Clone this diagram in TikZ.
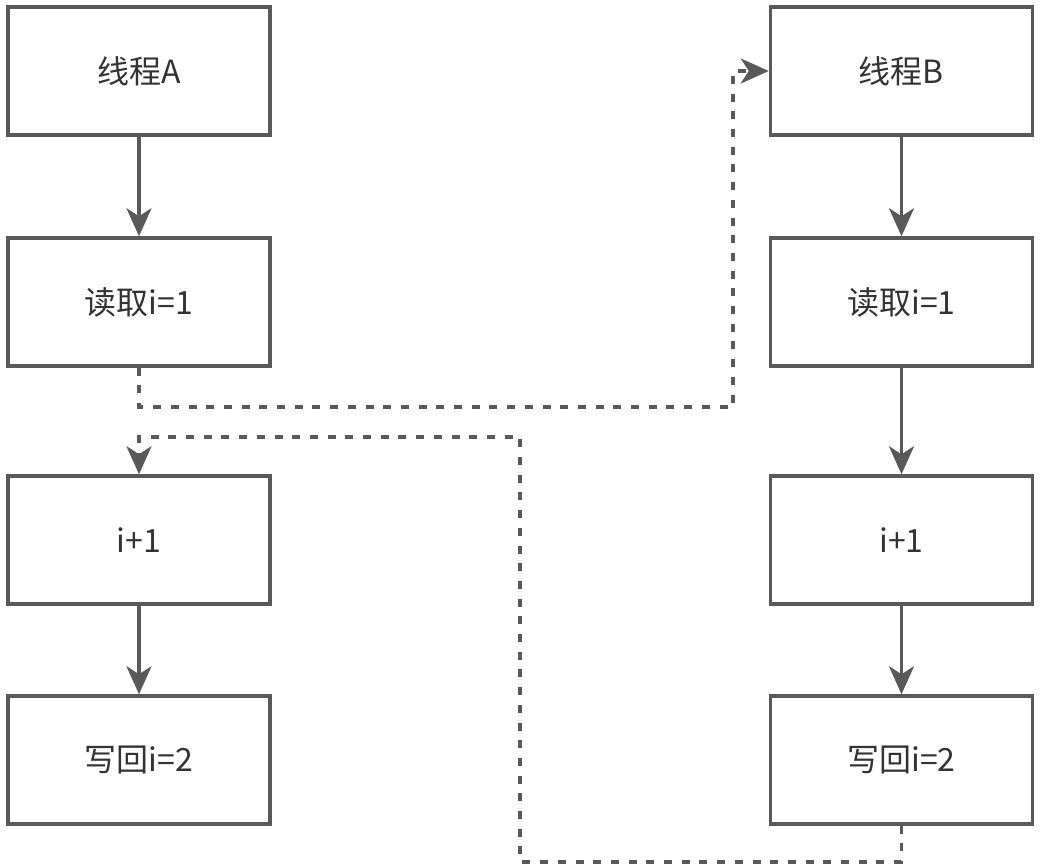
\documentclass[tikz,border=0pt]{standalone}
\usepackage{fontspec}
\setmainfont{Noto Sans CJK SC}
\usetikzlibrary{arrows.meta}
\definecolor{lc}{HTML}{595959}
\definecolor{tc}{HTML}{333333}
\tikzset{
  box/.style={draw=lc, line width=3.5pt, rectangle, minimum width=262pt, minimum height=128pt, inner sep=0pt, text=tc, font=\fontsize{32}{38}\selectfont},
  conn/.style={draw=lc, line width=3.5pt, -{Stealth[length=28pt, width=25pt, inset=8pt]}},
  dconn/.style={conn, dash pattern=on 8pt off 9.7pt},
}
\begin{document}
\begin{tikzpicture}[x=1pt,y=-1pt]
\useasboundingbox (0,0) rectangle (1045,867);
\node[box] (a1) at (139,71) {线程A};
\node[box] (a2) at (139,302) {读取i=1};
\node[box] (a3) at (139,540) {i+1};
\node[box] (a4) at (139,760) {写回i=2};
\node[box] (b1) at (901.5,71) {线程B};
\node[box] (b2) at (901.5,302) {读取i=1};
\node[box] (b3) at (901.5,540) {i+1};
\node[box] (b4) at (901.5,760) {写回i=2};
\draw[conn] (a1) -- (a2);
\draw[conn] (a3) -- (a4);
\draw[conn] (b1) -- (b2);
\draw[conn] (b2) -- (b3);
\draw[conn] (b3) -- (b4);
\draw[dconn] (a2.south) -- ++(0,39) -| (733,71) -- (b1.west);
\draw[dconn] (b4.south) -- ++(0,36) -| (520,437) -| (a3.north);
\end{tikzpicture}
\end{document}
